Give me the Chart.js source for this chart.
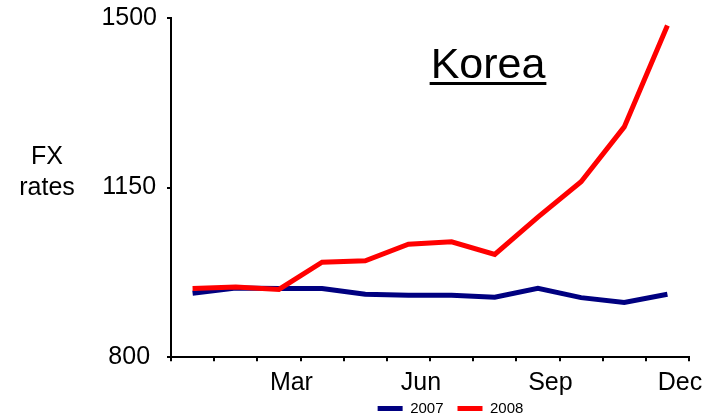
<!DOCTYPE html>
<html>
<head>
<meta charset="utf-8">
<script src="https://cdn.jsdelivr.net/npm/chart.js@4.4.0/dist/chart.umd.min.js"></script>
<style>
  body { margin: 0; background: #fff; }
</style>
</head>
<body>
<canvas id="canvas_korea" width="712" height="420"></canvas>
<script>
var months = ['Jan', 'Feb', 'Mar', 'Apr', 'May', 'Jun', 'Jul', 'Aug', 'Sep', 'Oct', 'Nov', 'Dec'];
var fx2007 = [932, 943, 942, 942, 930, 928, 928, 924, 942, 923, 913, 930];
var fx2008 = [942, 945, 940, 996, 999, 1033, 1038, 1012, 1089, 1162, 1275, 1484];
var yTicks = [800, 1150, 1500];
var titleText = 'Korea';
var yTitle = ['FX', 'rates'];

const FONT = '"Liberation Sans", Arial, sans-serif';
const BOTTOM_PAD = -19;

// title inside the plot + two-line axis caption on the left
const textPlugin = {
    id: 'textPlugin',
    afterLayout(chart) {
        // legend sits a bit right of centre and tucked under the labels in the original
        const lg = chart.legend;
        lg.left += 106;
        lg.right += 106;
        lg.top -= 13;
        lg.bottom -= 13;
    },
    afterDraw(chart) {
        const c = chart.ctx;
        c.save();
        c.fillStyle = '#000';
        c.font = '43px ' + FONT;
        c.textAlign = 'center';
        c.textBaseline = 'alphabetic';
        c.fillText(titleText, 488, 78);
        const w = c.measureText(titleText).width;
        c.fillRect(488 - w / 2 - 1, 82, w + 2, 3);

        c.font = '25px ' + FONT;
        c.fillText(yTitle[0], 47, 164);
        c.fillText(yTitle[1], 47, 195);
        c.restore();
    }
};

const ctx = document.getElementById('canvas_korea').getContext('2d');
var chart1 = new Chart(ctx, {
    type: 'line',
    data: {
        labels: months,
        datasets: [
            {
                label: '2007',
                data: fx2007,
                borderColor: '#000080',
                backgroundColor: '#000080',
                borderWidth: 5,
                pointRadius: 0,
                tension: 0,
                order: 1
            },
            {
                label: '2008',
                data: fx2008,
                borderColor: '#ff0000',
                backgroundColor: '#ff0000',
                borderWidth: 5,
                pointRadius: 0,
                tension: 0,
                order: 0
            }
        ]
    },
    options: {
        responsive: false,
        animation: false,
        layout: { padding: { left: 0, right: 23, top: 17.7, bottom: BOTTOM_PAD } },
        plugins: {
            legend: {
                position: 'bottom',
                labels: {
                    usePointStyle: true,
                    pointStyle: 'line',
                    pointStyleWidth: 25,
                    boxHeight: 4,
                    padding: 14,
                    color: '#000',
                    font: { family: FONT, size: 15 },
                    sort: (a, b) => a.datasetIndex - b.datasetIndex
                }
            },
            tooltip: { enabled: false }
        },
        scales: {
            x: {
                offset: true,
                border: { color: '#000', width: 2 },
                grid: {
                    drawOnChartArea: false,
                    offset: true,
                    color: '#000',
                    lineWidth: 2,
                    tickLength: 4
                },
                ticks: {
                    autoSkip: false,
                    maxRotation: 0,
                    padding: 7,
                    labelOffset: 12.5,
                    color: '#000',
                    font: { family: FONT, size: 25 },
                    callback: (v, i) => (i % 3 === 2 ? months[i] : '')
                },
                afterFit: s => { s.height = 420 - BOTTOM_PAD - s.chart.legend.height - 357.3; }
            },
            y: {
                min: yTicks[0],
                max: yTicks[yTicks.length - 1],
                border: { color: '#000', width: 2 },
                grid: {
                    drawOnChartArea: false,
                    color: '#000',
                    lineWidth: 2,
                    tickLength: 4
                },
                afterBuildTicks: s => { s.ticks = yTicks.map(v => ({ value: v })); },
                ticks: {
                    crossAlign: 'center',
                    padding: 10,
                    color: '#000',
                    font: { family: FONT, size: 25 },
                    callback: v => String(v)
                },
                afterFit: s => {
                    s.width = 171;
                    s.paddingTop = 0;
                    s.paddingBottom = 0;
                }
            }
        }
    },
    plugins: [textPlugin]
});
</script>
</body>
</html>
